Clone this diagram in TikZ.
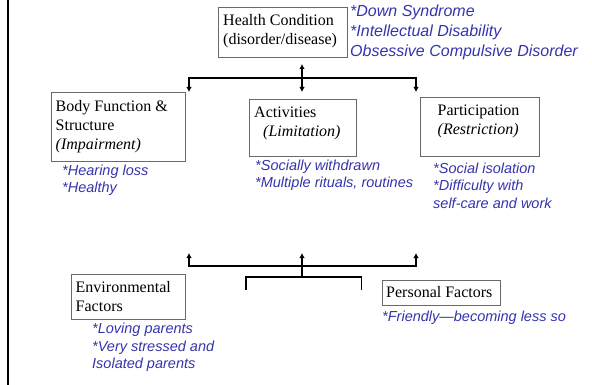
\documentclass[tikz,border=0pt]{standalone}
\usepackage{fontspec}
\setmainfont{Liberation Serif}
\newfontfamily\notefont{Liberation Sans}
\usetikzlibrary{arrows.meta}

\definecolor{noteblue}{RGB}{52,52,172}
\definecolor{boxgray}{RGB}{105,105,105}

% multi-line texts are placed by the baseline of their last line
\tikzset{
  box/.style={draw=boxgray, line width=0.8pt, anchor=north west, inner sep=0pt},
  lbl/.style={font=\fontsize{16}{19.3}\selectfont, anchor=base west, inner sep=0pt, align=left},
  note/.style={font=\notefont\itshape\fontsize{14.5}{17.4}\selectfont, text=noteblue,
               anchor=base west, inner sep=0pt, align=left},
  bignote/.style={note, font=\notefont\itshape\fontsize{16}{20}\selectfont},
  conn/.style={line width=1.8pt, black},
  tip/.tip={Latex[length=5pt,width=5.5pt]}
}

\begin{document}
\begin{tikzpicture}[x=1pt,y=-1pt]
  \useasboundingbox (0,0) rectangle (592,385);

  % left margin rule
  \coordinate (ruleTop) at (8,0);
  \coordinate (ruleBot) at (8,385);
  \draw[line width=2.2pt] (ruleTop) -- (ruleBot);

  % health condition
  \node[box, minimum width=129pt, minimum height=50pt] (hc) at (218,7) {};
  \node[lbl] (hcT) at (223,45) {Health Condition\\(disorder/disease)};
  \node[bignote] (hcN) at (350,56.7) {*Down Syndrome\\*Intellectual Disability\\Obsessive Compulsive Disorder};

  % body function & structure
  \node[box, minimum width=134pt, minimum height=69pt] (bf) at (51,92) {};
  \node[lbl] (bfT) at (55.5,150) {Body Function \&\\Structure\\\textit{(Impairment)}};
  \node[note] (bfN) at (62,193) {*Hearing loss\\*Healthy};

  % activities
  \node[box, minimum width=107pt, minimum height=57pt] (ac) at (249,99) {};
  \node[lbl] (acT) at (254,137) {Activities\\\hspace*{9pt}\textit{(Limitation)}};
  \node[note] (acN) at (255,188) {*Socially withdrawn\\*Multiple rituals, routines};

  % participation
  \node[box, minimum width=119pt, minimum height=59pt] (pa) at (420,97) {};
  \node[lbl] (paT) at (437.5,135) {Participation\\\textit{(Restriction)}};
  \node[note] (paN) at (433,208.3) {*Social isolation\\*Difficulty with\\self-care and work};

  % environmental factors
  \node[box, minimum width=113.5pt, minimum height=44.5pt] (ef) at (71,274) {};
  \node[lbl] (efT) at (75.5,311.7) {Environmental\\Factors};
  \node[note] (efN) at (92,368.7) {*Loving parents\\*Very stressed and\\Isolated parents};

  % personal factors
  \node[box, minimum width=117.5pt, minimum height=25pt] (pf) at (382,279.5) {};
  \node[lbl] (pfT) at (386,297.7) {Personal Factors};
  \node[note] (pfN) at (382,321.7) {*Friendly—becoming less so};

  % upper connector: health condition to the three components
  \coordinate (uTop) at (302,64);
  \coordinate (uHub) at (302,78);
  \coordinate (uBot) at (302,92);
  \coordinate (uL) at (189,92);
  \coordinate (uR) at (416,92);
  \draw[conn, tip-tip] (uL) |- (uHub) -| (uR);
  \draw[conn, tip-tip] (uTop) -- (uBot);

  % lower connector: contextual factors up to the components
  \coordinate (lL) at (189,253);
  \coordinate (lR) at (416,253);
  \coordinate (lTop) at (302,253);
  \coordinate (lHub) at (302,266);
  \coordinate (lStem) at (302,277);
  \coordinate (bL) at (246,290);
  \coordinate (bR) at (361.5,290);
  \draw[conn, tip-tip] (lL) |- (lHub) -| (lR);
  \draw[conn, -tip] (lStem) -- (lTop);
  \draw[conn] (bL) |- (lStem) -| (bR);
\end{tikzpicture}
\end{document}
